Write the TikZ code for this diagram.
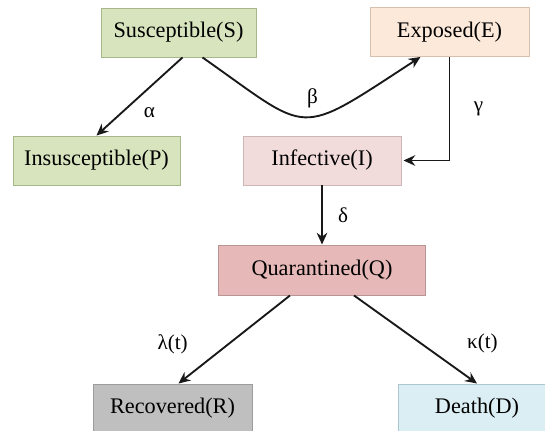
\documentclass[tikz,border=0pt]{standalone}
\usepackage{fontspec}
\setmainfont{Liberation Serif}
\newfontfamily\diagfont{Liberation Serif}
\usetikzlibrary{arrows.meta}
\definecolor{suscfill}{HTML}{D7E4BD}
\definecolor{suscdraw}{HTML}{A6B78A}
\definecolor{expofill}{HTML}{FDE9D9}
\definecolor{expodraw}{HTML}{D6C0B0}
\definecolor{infefill}{HTML}{F2DCDB}
\definecolor{infedraw}{HTML}{CDB6B5}
\definecolor{quarfill}{HTML}{E6B8B7}
\definecolor{quardraw}{HTML}{B89594}
\definecolor{recofill}{HTML}{BFBFBF}
\definecolor{recodraw}{HTML}{9C9C9C}
\definecolor{deadfill}{HTML}{DBEEF4}
\definecolor{deaddraw}{HTML}{AAC6CE}

\begin{document}
\begin{tikzpicture}[
  x=0.03cm, y=-0.03cm,
  font=\diagfont\fontsize{19}{23}\selectfont,
  >={Stealth[length=10pt, width=9pt]},
  box/.style={rectangle, minimum height=1.47cm, inner sep=2pt, line width=0.8pt},
  susc/.style={box, draw=suscdraw, fill=suscfill},
  expo/.style={box, draw=expodraw, fill=expofill, minimum width=4.77cm},
  infe/.style={box, draw=infedraw, fill=infefill, minimum width=4.74cm},
  quar/.style={box, draw=quardraw, fill=quarfill, minimum width=6.21cm, minimum height=1.5cm},
  reco/.style={box, draw=recodraw, fill=recofill, minimum width=4.77cm},
  dead/.style={box, draw=deaddraw, fill=deadfill, minimum width=4.74cm},
  link/.style={->, line width=1.6pt, draw=black!90},
  rate/.style={font=\diagfont\fontsize{18}{22}\selectfont, inner sep=0pt},
]
\useasboundingbox (0,0) rectangle (545,431);

\node[susc, minimum width=4.65cm] (S) at (178.5,32.5) {Susceptible(S)};
\node[susc, minimum width=5.01cm] (P) at (96.5,160.5) {Insusceptible(P)};
\node[expo] (E) at (449.5,32)  {Exposed(E)};
\node[infe] (I) at (322,160.5) {Infective(I)};
\node[quar] (Q) at (322,270)   {Quarantined(Q)};
\node[reco] (R) at (172.5,408.5) {Recovered(R)};
\node[dead] (D) at (477,408.5) {Death(D)};

\draw[link] ([xshift=0.12cm]S.south) -- node[rate, pos=0.71, xshift=0.84cm] (alpha) {α} (P.north);
\draw[link] ([xshift=0.72cm]S.south) .. controls +(110,77) and +(-126,82) ..
  node[rate, pos=0.5, xshift=0.21cm, yshift=0.57cm] (beta) {β} ([xshift=-0.87cm]E.south);
\draw[link] (E.south) |- node[rate, pos=0.25, xshift=0.87cm] (gamma) {γ} ([xshift=0.06cm]I.east);
\draw[link] (I.south) -- node[rate, pos=0.5, xshift=0.63cm] (delta) {δ} (Q.north);
\draw[link] ([xshift=-0.96cm]Q.south) -- node[rate, pos=0.55, xshift=-1.68cm] (lambda) {λ(t)} ([xshift=0.18cm]R.north);
\draw[link] ([xshift=0.96cm]Q.south) -- node[rate, pos=0.54, xshift=1.86cm] (kappa) {κ(t)} (D.north);

\end{tikzpicture}
\end{document}
